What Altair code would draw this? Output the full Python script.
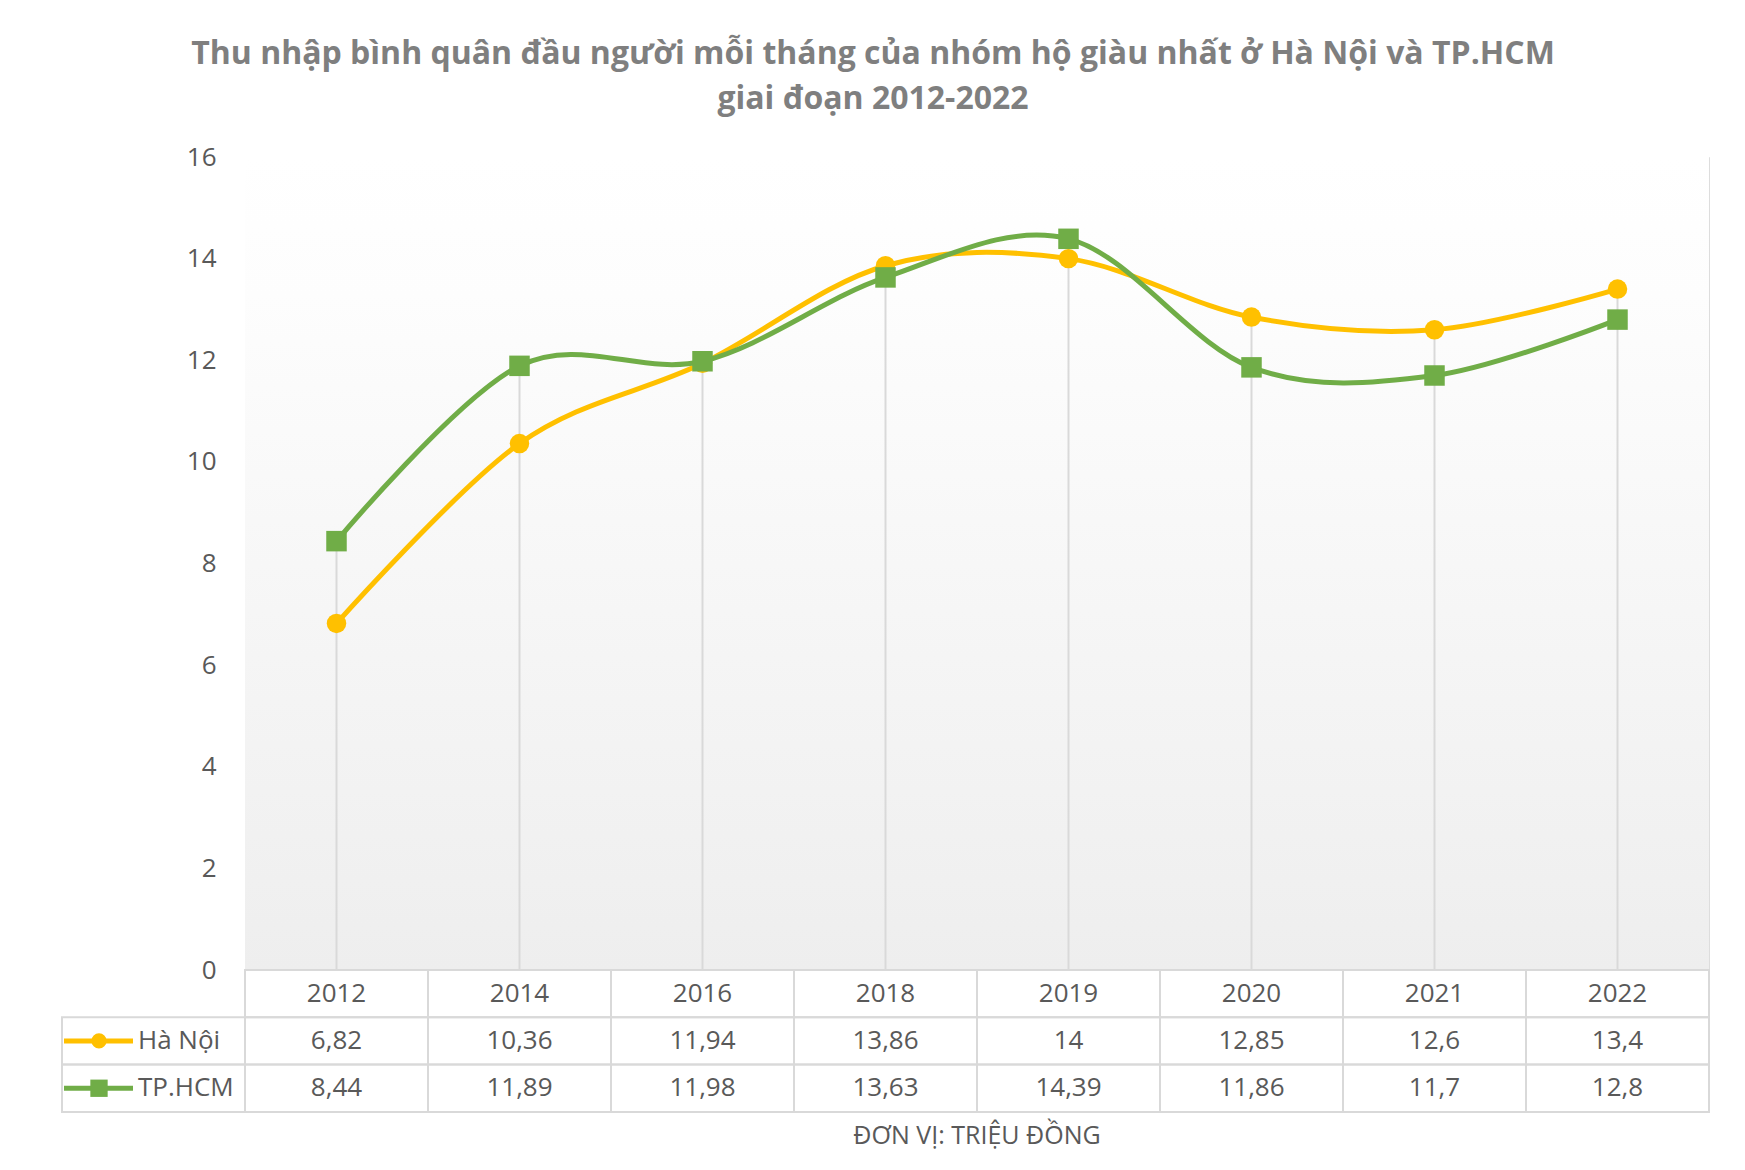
import altair as alt
import pandas as pd

# ---------------- data ----------------
years = ["2012", "2014", "2016", "2018", "2019", "2020", "2021", "2022"]
series = ["Hà Nội", "TP.HCM"]
ha_noi = [6.82, 10.36, 11.94, 13.86, 14, 12.85, 12.6, 13.4]
tp_hcm = [8.44, 11.89, 11.98, 13.63, 14.39, 11.86, 11.7, 12.8]
y_ticks = [0, 2, 4, 6, 8, 10, 12, 14, 16]
title_lines = [
    "Thu nhập bình quân đầu người mỗi tháng của nhóm hộ giàu nhất ở Hà Nội và TP.HCM",
    "giai đoạn 2012-2022",
]
unit_note = "ĐƠN VỊ: TRIỆU ĐỒNG"
colors = ["#FFC000", "#70AD47"]

# ---------------- layout / style ----------------
W, H = 1464, 813
ROW_H = 47.3
FONT = "Open Sans"
TXT = "#595959"
GRID = "#d9d9d9"


def fmt(v):
    return f"{v:g}".replace(".", ",")


long = pd.DataFrame(
    [
        {"year": y, "series": s, "value": v, "label": fmt(v), "row": s, "col": y}
        for s, vals in zip(series, [ha_noi, tp_hcm])
        for y, v in zip(years, vals)
    ]
)
cells = pd.DataFrame(
    [{"row": "year", "col": y} for y in years]
    + [{"row": s, "col": c} for s in series for c in ["legend"] + years]
)
year_row = pd.DataFrame({"row": ["year"] * len(years), "col": years, "text": years})
legend_df = pd.DataFrame({"row": series, "series": series})
unit_df = pd.DataFrame({"row": ["unit"], "text": [unit_note]})
bg_df = pd.DataFrame({"k": [0]})

# ---------------- scales ----------------
y_scale = alt.Scale(domain=[0, 16], nice=False, zero=True)
x_pt = alt.X("year:N", sort=years,
             scale=alt.Scale(type="point", domain=years, padding=0.5), axis=None)
color = alt.Color("series:N", scale=alt.Scale(domain=series, range=colors), legend=None)

# table columns: a legend column then one column per year, years aligned with the plot
col_domain = ["legend"] + years
col_step = W / len(years)
tscale = alt.Scale(type="band", domain=col_domain,
                   range=[-col_step, W], paddingInner=0, paddingOuter=0)
tx = alt.X("col:N", scale=tscale, axis=None, bandPosition=0.5)
tx_rect = alt.X("col:N", scale=tscale, axis=None)
row_scale = alt.Scale(type="band", domain=["year"] + series + ["unit"],
                      range=[H, H + 4 * ROW_H], paddingInner=0, paddingOuter=0)
ty = alt.Y("row:N", scale=row_scale, axis=None, bandPosition=0.5)
ty_rect = alt.Y("row:N", scale=row_scale, axis=None)

# ---------------- layers ----------------
background = alt.Chart(bg_df).mark_rect(
    fill=alt.LinearGradient(
        gradient="linear",
        stops=[
            alt.GradientStop(color="#ffffff", offset=0),
            alt.GradientStop(color="#fdfdfd", offset=0.17),
            alt.GradientStop(color="#eeeeee", offset=1),
        ],
        x1=0, x2=0, y1=0, y2=1,
    )
).encode(x=alt.value(0), x2=alt.value(W), y=alt.value(0), y2=alt.value(H))

drop = alt.Chart(long).mark_rule(color=GRID, strokeWidth=2).encode(
    x=x_pt,
    y=alt.Y("max(value):Q", scale=y_scale, axis=None),
    y2=alt.datum(0),
)


def series_layers(name, shape, size, with_axis):
    base = alt.Chart(long).transform_filter(alt.datum.series == name)
    yax = (
        alt.Axis(values=y_ticks, domain=False, ticks=False, grid=False,
                 labelFontSize=26, labelColor=TXT, labelFont=FONT,
                 labelPadding=29, title=None)
        if with_axis else None
    )
    line = base.mark_line(interpolate="cardinal", strokeWidth=5).encode(
        x=x_pt, y=alt.Y("value:Q", scale=y_scale, axis=yax), color=color,
    )
    pts = base.mark_point(filled=True, opacity=1, shape=shape, size=size).encode(
        x=x_pt, y=alt.Y("value:Q", scale=y_scale, axis=None), color=color,
    )
    return [line, pts]


hn_layers = series_layers("Hà Nội", "circle", 380, True)
hcm_layers = series_layers("TP.HCM", "square", 420, False)

# table
cell_rects = alt.Chart(cells).mark_rect(filled=False, stroke=GRID, strokeWidth=2).encode(
    x=tx_rect, y=ty_rect
)
year_text = alt.Chart(year_row).mark_text(font=FONT, fontSize=26, color=TXT,
                                          baseline="middle").encode(
    x=tx, y=ty, text="text:N"
)
value_text = alt.Chart(long).mark_text(font=FONT, fontSize=26, color=TXT,
                                       baseline="middle").encode(
    x=tx, y=ty, text="label:N"
)
leg_rule = alt.Chart(legend_df).mark_rule(strokeWidth=5).encode(
    x=alt.value(-181), x2=alt.value(-112), y=ty, color=color
)
leg_hn = alt.Chart(legend_df).transform_filter(alt.datum.series == "Hà Nội").mark_point(
    filled=True, opacity=1, shape="circle", size=230
).encode(x=alt.value(-146), y=ty, color=color)
leg_hcm = alt.Chart(legend_df).transform_filter(alt.datum.series == "TP.HCM").mark_point(
    filled=True, opacity=1, shape="square", size=300
).encode(x=alt.value(-146), y=ty, color=color)
leg_text = alt.Chart(legend_df).mark_text(font=FONT, fontSize=26, color=TXT,
                                          align="left", baseline="middle").encode(
    x=alt.value(-107), y=ty, text="series:N"
)
unit_text = alt.Chart(unit_df).mark_text(font=FONT, fontSize=25, color=TXT,
                                         baseline="middle").encode(
    x=alt.value(W / 2), y=ty, text="text:N"
)

chart = (
    alt.layer(
        background, drop, *hn_layers, *hcm_layers,
        cell_rects, year_text, value_text, leg_rule, leg_hn, leg_hcm, leg_text, unit_text,
    )
    .resolve_scale(x="independent", y="independent")
    .properties(
        width=W,
        height=H,
        padding={"left": 237, "top": 149, "right": 28, "bottom": 195},
        autosize=alt.AutoSizeParams(type="none"),
        title=alt.TitleParams(
            text=title_lines, font=FONT, fontSize=32, fontWeight="bold",
            color="#7f7f7f", anchor="middle", dx=-104, lineHeight=45, offset=28,
        ),
    )
    .configure_view(stroke=None)
    .configure(background="white")
)

chart.save("out.html", embed_options={"renderer": "svg", "actions": False})
